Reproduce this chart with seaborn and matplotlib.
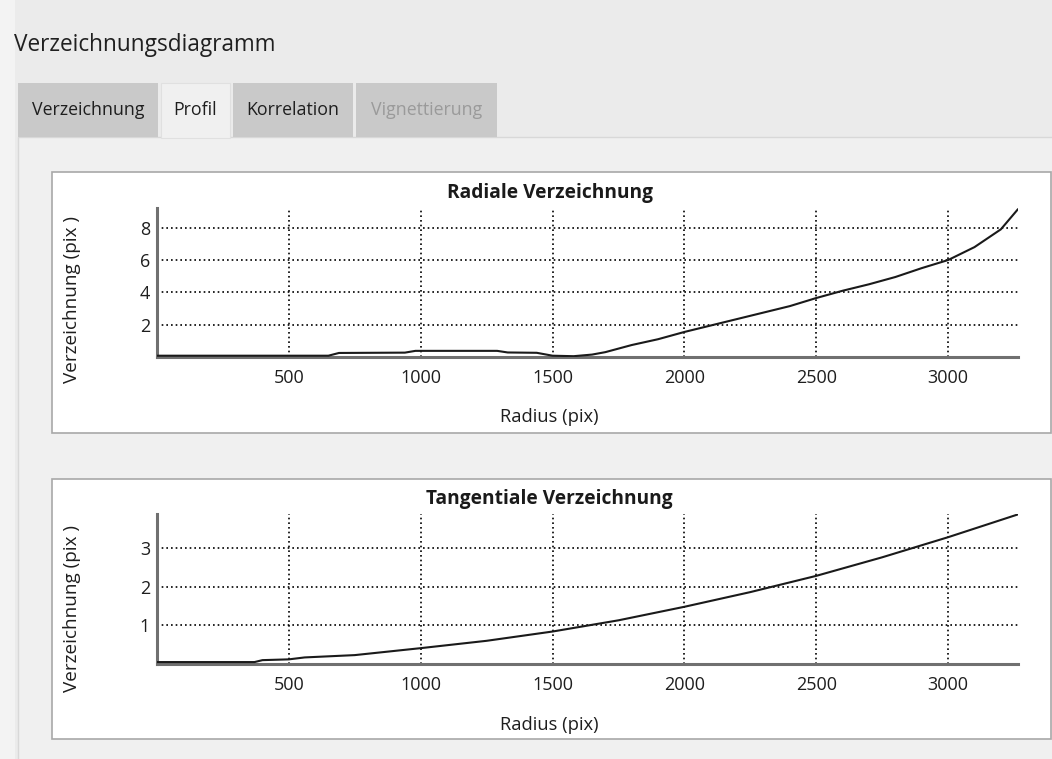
import matplotlib
matplotlib.use("Agg")
import matplotlib.pyplot as plt
from matplotlib.patches import Rectangle
import seaborn as sns
import pandas as pd

# Werte
radius_rad = [0, 650, 690, 940, 980, 1290, 1330, 1440, 1500, 1580, 1650, 1700,
              1800, 1900, 2000, 2100, 2200, 2300, 2400, 2500, 2600, 2700, 2800,
              2900, 3000, 3100, 3200, 3265]
verz_rad = [0.08, 0.08, 0.25, 0.27, 0.38, 0.38, 0.28, 0.26, 0.08, 0.05, 0.15, 0.3,
            0.74, 1.1, 1.55, 1.95, 2.35, 2.75, 3.15, 3.65, 4.1, 4.5, 4.95,
            5.5, 6.0, 6.8, 7.9, 9.15]

radius_tan = [0, 370, 400, 500, 560, 750, 1000, 1250, 1500, 1750, 2000, 2250,
              2500, 2750, 3000, 3265]
verz_tan = [0.05, 0.05, 0.1, 0.12, 0.17, 0.23, 0.41, 0.6, 0.84, 1.13, 1.48, 1.86,
            2.28, 2.76, 3.28, 3.87]

x_ticks = [500, 1000, 1500, 2000, 2500, 3000]
y_ticks_rad = [2, 4, 6, 8]
y_ticks_tan = [1, 2, 3]

tabs = ["Verzeichnung", "Profil", "Korrelation", "Vignettierung"]

W, H = 1052, 759

sns.set_style("white")
plt.rcParams['font.family'] = ['Open Sans', 'DejaVu Sans']

fig = plt.figure(figsize=(W / 100, H / 100), dpi=100)
fig.patch.set_facecolor('#ebebeb')


def box(x0, y0, x1, y1, fc, ec='none', lw=1.0, z=0):
    r = Rectangle((x0 / W, 1 - y1 / H), (x1 - x0) / W, (y1 - y0) / H,
                  transform=fig.transFigure, facecolor=fc, edgecolor=ec,
                  linewidth=lw, zorder=z)
    fig.add_artist(r)


# Fensterrahmen / Reiter
box(-5, -5, 15, H + 5, '#f3f3f3')
fig.text(14 / W, 1 - 45 / H, "Verzeichnungsdiagramm", fontsize=16.3,
         color='#202020', va='center', ha='left')

box(18, 137, W + 5, H + 5, '#f0f0f0', ec='#d8d8d8', lw=1.0)
tab_x = [(18, 158), (161, 230), (233, 353), (356, 497)]
for (a, b), name in zip(tab_x, tabs):
    selected = name == "Profil"
    box(a, 83, b, 137 if not selected else 138,
        '#f0f0f0' if selected else '#c9c9c9',
        ec='#e0e0e0' if selected else 'none', lw=0.8, z=1)
    col = '#9a9a9a' if name == "Vignettierung" else '#1e1e1e'
    fig.text((a + b) / 2 / W, 1 - 110 / H, name, fontsize=12.8, color=col,
             ha='center', va='center', zorder=2)

# weisse Diagrammflaechen
box(52, 172, 1051, 433, 'white', ec='#a8a8a8', lw=1.2)
box(52, 479, 1051, 739, 'white', ec='#a8a8a8', lw=1.2)


def make_axes(top, bottom):
    return fig.add_axes([157 / W, 1 - bottom / H, (1018 - 157) / W,
                         (bottom - top) / H])


panels = [
    (make_axes(208, 357), radius_rad, verz_rad, y_ticks_rad, 9.22,
     "Radiale Verzeichnung", 149),
    (make_axes(514, 664), radius_tan, verz_tan, y_ticks_tan, 3.88,
     "Tangentiale Verzeichnung", 150),
]

for ax, xs, ys, yt, ymax, title, hpx in panels:
    ax.set_facecolor('none')
    df = pd.DataFrame({"Radius": xs, "Verzeichnung": ys})
    sns.lineplot(data=df, x="Radius", y="Verzeichnung", ax=ax, color='#1a1a1a',
                 linewidth=1.5, zorder=3)
    ax.set_xlim(0, 3265)
    ax.set_ylim(0, ymax)
    ax.set_xticks(x_ticks)
    ax.set_yticks(yt)
    ax.grid(True, color='black', linewidth=1.2, linestyle=(0, (1, 1.8)))
    ax.set_axisbelow(True)
    for s in ['top', 'right']:
        ax.spines[s].set_visible(False)
    for s in ['left', 'bottom']:
        ax.spines[s].set_color('#707070')
        ax.spines[s].set_linewidth(2.2)
        ax.spines[s].set_zorder(2)
    ax.tick_params(axis='y', direction='out', length=4, width=1.5,
                   color='#707070', labelsize=13, pad=1, labelcolor='#1e1e1e')
    ax.tick_params(axis='x', direction='inout', length=8, width=1.5,
                   color='#707070', labelsize=13, pad=5, labelcolor='#1e1e1e')
    ax.set_xlabel("Radius (pix)", fontsize=13.2, color='#1e1e1e')
    ax.set_ylabel("Verzeichnung (pix )", fontsize=13.6, color='#1e1e1e')
    ax.text(0.456, 1 + 15 / hpx, title, transform=ax.transAxes, ha='center',
            va='center', fontsize=13.8, fontweight='bold', color='#1a1a1a')

ax1, ax2 = panels[0][0], panels[1][0]
ax1.xaxis.set_label_coords(0.455, -60 / 149)
ax1.xaxis.label.set_va('center')
ax1.yaxis.set_label_coords(-85 / 861, 57 / 149)
ax1.yaxis.label.set_va('center')
ax2.xaxis.set_label_coords(0.455, -61 / 150)
ax2.xaxis.label.set_va('center')
ax2.yaxis.set_label_coords(-85 / 861, 56 / 150)
ax2.yaxis.label.set_va('center')

plt.savefig('out.png', dpi=100, facecolor=fig.get_facecolor())
